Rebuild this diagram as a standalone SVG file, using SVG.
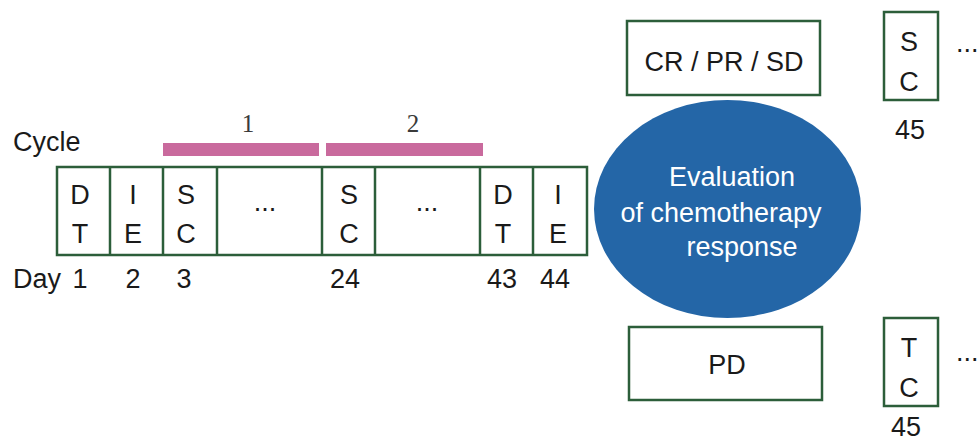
<svg xmlns="http://www.w3.org/2000/svg" width="980" height="443" viewBox="0 0 980 443">
<style>
.t{font-family:"Liberation Sans",Arial,sans-serif;font-size:27px;fill:#1a1a1a}
.m{text-anchor:middle}
.w{fill:#ffffff}
.s{font-family:"Liberation Serif","Times New Roman",serif;font-size:25px;fill:#3a3a3a;text-anchor:middle}
.box{fill:#ffffff;stroke:#2c5e3a;stroke-width:2.5}
.bar{fill:#c96a9d}
</style>
<rect width="980" height="443" fill="#ffffff"/>
<g id="labels">
<text class="t" x="13" y="151">Cycle</text>
<text class="t" x="13" y="288">Day</text>
</g>
<g id="cycle1">
<rect class="bar" x="163" y="143" width="156" height="13"/>
<text class="s" x="248" y="132">1</text>
</g>
<g id="cycle2">
<rect class="bar" x="326" y="143" width="157" height="13"/>
<text class="s" x="413" y="132">2</text>
</g>
<g id="strip">
<rect class="box" x="57" y="167" width="530" height="88"/>
<line class="box" x1="110" y1="167" x2="110" y2="255"/>
<line class="box" x1="163" y1="167" x2="163" y2="255"/>
<line class="box" x1="217" y1="167" x2="217" y2="255"/>
<line class="box" x1="322" y1="167" x2="322" y2="255"/>
<line class="box" x1="375" y1="167" x2="375" y2="255"/>
<line class="box" x1="480" y1="167" x2="480" y2="255"/>
<line class="box" x1="533" y1="167" x2="533" y2="255"/>
</g>
<g id="cell-dt1"><text class="t m" x="80" y="204">D</text><text class="t m" x="80" y="243">T</text><text class="t m" x="80" y="288">1</text></g>
<g id="cell-ie1"><text class="t m" x="133" y="204">I</text><text class="t m" x="133" y="243">E</text><text class="t m" x="133" y="288">2</text></g>
<g id="cell-sc3"><text class="t m" x="186" y="204">S</text><text class="t m" x="186" y="243">C</text><text class="t m" x="184" y="288">3</text></g>
<g id="cell-dots1"><text class="t m" x="265" y="211">...</text></g>
<g id="cell-sc24"><text class="t m" x="349" y="204">S</text><text class="t m" x="349" y="243">C</text><text class="t m" x="345" y="288">24</text></g>
<g id="cell-dots2"><text class="t m" x="427" y="211">...</text></g>
<g id="cell-dt43"><text class="t m" x="503" y="204">D</text><text class="t m" x="503" y="243">T</text><text class="t m" x="502" y="288">43</text></g>
<g id="cell-ie44"><text class="t m" x="558" y="204">I</text><text class="t m" x="558" y="243">E</text><text class="t m" x="555" y="288">44</text></g>
<g id="evaluation">
<ellipse cx="727.5" cy="209" rx="133.5" ry="109" fill="#2466a7"/>
<text class="t m w" x="732" y="186">Evaluation</text>
<text class="t m w" x="721" y="222">of chemotherapy</text>
<text class="t m w" x="742" y="256">response</text>
</g>
<g id="crprsd">
<rect class="box" x="627" y="21" width="193" height="74"/>
<text class="t m" x="724" y="71">CR / PR / SD</text>
</g>
<g id="pd">
<rect class="box" x="629" y="327" width="193" height="73"/>
<text class="t m" x="727" y="374">PD</text>
</g>
<g id="sc45">
<rect class="box" x="884" y="12" width="54" height="88"/>
<text class="t m" x="909" y="51">S</text>
<text class="t m" x="909" y="91">C</text>
<text class="t m" x="910" y="139">45</text>
<text class="t" x="956" y="52">...</text>
</g>
<g id="tc45">
<rect class="box" x="884" y="318" width="54" height="88"/>
<text class="t m" x="909" y="357">T</text>
<text class="t m" x="909" y="397">C</text>
<text class="t m" x="906" y="436">45</text>
<text class="t" x="956" y="361">...</text>
</g>
<g id="connectors"></g>
</svg>
